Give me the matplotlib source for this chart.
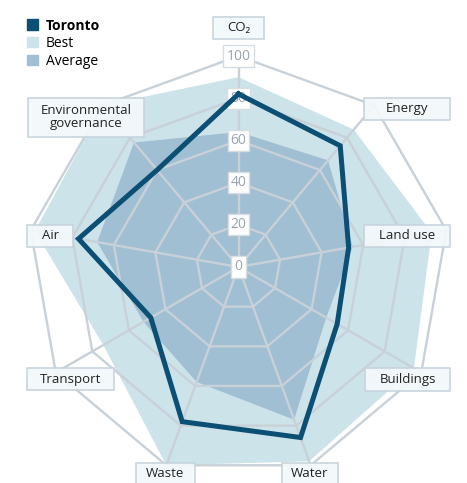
import numpy as np
import matplotlib.pyplot as plt
from matplotlib.patches import Patch

plt.rcParams['font.family'] = ['Open Sans', 'DejaVu Sans']

categories = ['CO₂', 'Energy', 'Land use', 'Buildings', 'Water', 'Waste',
              'Transport', 'Air', 'Environmental\ngovernance']
toronto = [82, 75, 53, 54, 86, 78, 48, 77, 60]
best = [90, 85, 93, 96, 98, 100, 74, 98, 100]
average = [64, 66, 55, 48, 77, 58, 52, 68, 77]
ticks = [0, 20, 40, 60, 80, 100]

# where each category box sits (data units) and its size in px
label_pos = [(0, 113.3), (79.9, 74.9), (79.9, 14.7), (80.1, -53.3), (33.9, -98.1),
             (-34.6, -98.1), (-79.6, -53.1), (-89.3, 14.7), (-72.3, 70.9)]
label_box = [(51, 22), (86, 22), (86, 22), (85, 23), (56, 22),
             (59, 22), (87, 22), (46, 22), (116, 39)]

dark = '#0b4f74'
best_col = '#cde3ea'
avg_col = '#a1bfd3'
grid_col = '#c8d0d8'

n = len(categories)
theta = np.arange(n) * 2 * np.pi / n


def xy(vals):
    v = np.asarray(vals, dtype=float)
    x = v * np.sin(theta)
    y = v * np.cos(theta)
    return np.append(x, x[0]), np.append(y, y[0])


px = 2.11  # pixels per unit
fig = plt.figure(figsize=(4.67, 4.83), dpi=100)
ax = fig.add_axes([0, 0, 1, 1])
ax.set_xlim(-238.5 / px, 228.5 / px)
ax.set_ylim(-216 / px, 267 / px)
ax.axis('off')

bx, by = xy(best)
ax.fill(bx, by, color=best_col, lw=0, zorder=1)
axx, ayy = xy(average)
ax.fill(axx, ayy, color=avg_col, lw=0, zorder=2)

# polygon grid and spokes
for t in ticks[1:]:
    gx, gy = xy([t] * n)
    ax.plot(gx, gy, color=grid_col, lw=1.7, zorder=3, solid_joinstyle='miter')
for th in theta:
    ax.plot([0, 100 * np.sin(th)], [0, 100 * np.cos(th)], color=grid_col, lw=1.7, zorder=3)

for t in ticks:
    ax.text(0, t, str(t), ha='center', va='center', fontsize=10, color='#97a4b0', zorder=4,
            bbox=dict(boxstyle='square,pad=0.22', fc='white', ec='#d5dde3', lw=1))

tx, ty = xy(toronto)
ax.plot(tx, ty, color=dark, lw=3.6, zorder=5, solid_joinstyle='miter')

for name, (lx, ly), (w, h) in zip(categories, label_pos, label_box):
    ax.add_patch(plt.Rectangle((lx - w / 2 / px, ly - h / 2 / px), w / px, h / px,
                               fc='#f3f8fa', ec='#c6d3dc', lw=1.2, alpha=0.95, zorder=6))
    ax.text(lx, ly, name, ha='center', va='center', fontsize=9.5, color='#222222',
            linespacing=1.0, zorder=7)

handles = [Patch(color=dark), Patch(color=best_col), Patch(color=avg_col)]
leg = ax.legend(handles, ['Toronto', 'Best', 'Average'], loc='upper left',
                bbox_to_anchor=(0.045, 0.973), frameon=False, fontsize=10,
                handlelength=0.8, handleheight=0.8, handletextpad=0.6,
                labelspacing=0.22, borderaxespad=0)
leg.get_texts()[0].set_fontweight('bold')

fig.savefig('out.png', dpi=100)
